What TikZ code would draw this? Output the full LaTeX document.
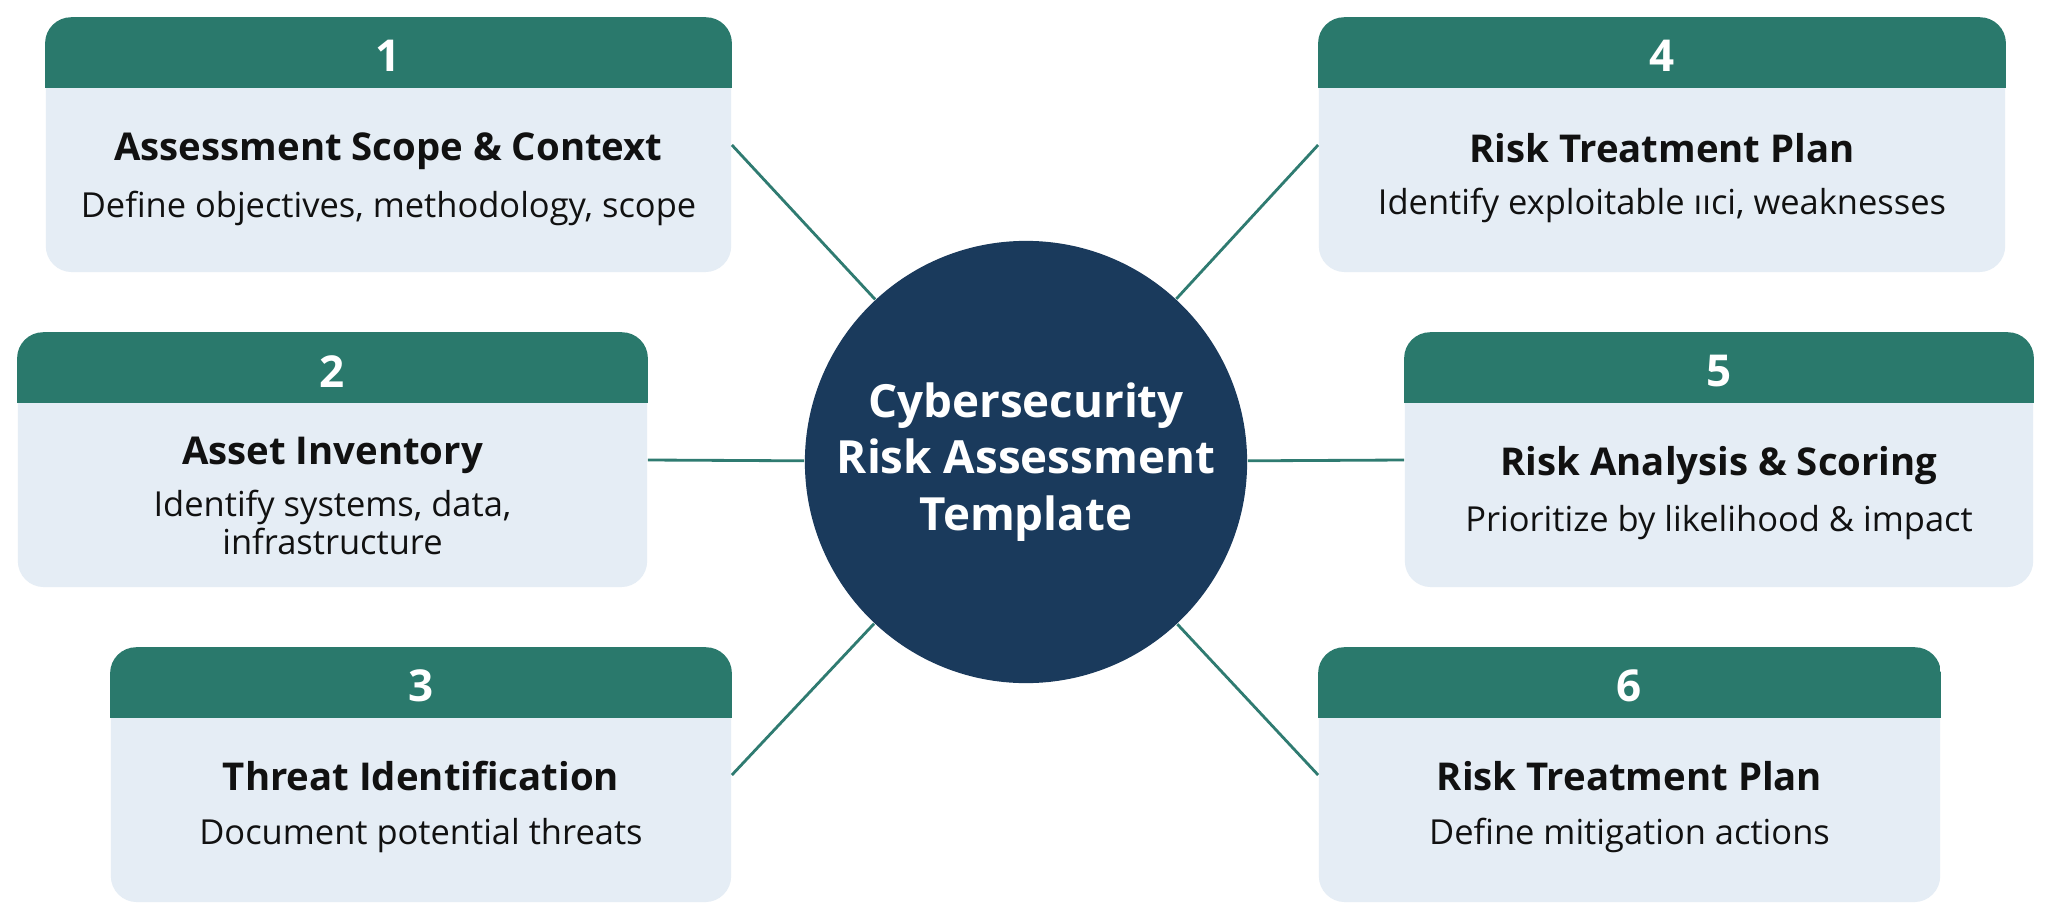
\documentclass[tikz,border=0pt]{standalone}
\usepackage{fontspec}
\setmainfont{Open Sans}
\usetikzlibrary{calc}
\definecolor{headc}{HTML}{2A796C}
\definecolor{bodyc}{HTML}{E5EDF5}
\definecolor{hubc}{HTML}{1A3A5C}
\definecolor{linec}{HTML}{2F7B71}
\definecolor{txtc}{HTML}{111111}
\tikzset{
  card/.style={fill=bodyc, rounded corners=0.26cm, minimum height=2.54cm, inner sep=0pt},
  numtxt/.style={text=white, font=\fontsize{12.5}{14}\selectfont\bfseries},
  ttl/.style={text=txtc, font=\fontsize{10.9}{12}\selectfont\bfseries},
  dsc/.style={text=txtc, font=\fontsize{9.8}{10.8}\selectfont, align=center},
  hub/.style={circle, fill=hubc, minimum size=4.42cm, inner sep=0pt, text=white, align=center, font=\fontsize{13}{16}\selectfont\bfseries},
  conn/.style={draw=linec, line width=0.8pt}
}
\newcommand{\cardhead}[1]{%
  \begin{scope}
    \clip[rounded corners=0.26cm] (#1.south west) rectangle (#1.north east);
    \fill[headc] (#1.north west) rectangle ([yshift=-0.71cm]#1.north east);
  \end{scope}}
\begin{document}
\begin{tikzpicture}[x=0.01cm,y=-0.01cm]
\useasboundingbox[fill=white] (0,0) rectangle (2048,921);
\node[hub] (c) at (1026,462) {Cybersecurity\\Risk Assessment\\Template};
% cards
\node[card, minimum width=6.85cm] (b1) at (388.5,145) {};
\node[card, minimum width=6.29cm] (b2) at (332.5,460) {};
\node[card, minimum width=6.20cm] (b3) at (421,775) {};
\node[card, minimum width=6.86cm] (b4) at (1662,145) {};
\node[card, minimum width=6.28cm] (b5) at (1719,460) {};
\node[card, minimum width=6.21cm] (b6) at (1629.5,775) {};
\cardhead{b1}\cardhead{b2}\cardhead{b3}\cardhead{b4}\cardhead{b5}\cardhead{b6}
% connectors
\draw[conn] (c) -- (b1.east);
\draw[conn] (c) -- (b2.east);
\draw[conn] (c) -- (b3.east);
\draw[conn] (c) -- (b4.west);
\draw[conn] (c) -- (b5.west);
\draw[conn] (c) -- (b6.west);
% numbers
\node[numtxt] (n1) at ([yshift=-0.39cm]b1.north) {1};
\node[numtxt] (n2) at ([yshift=-0.39cm]b2.north) {2};
\node[numtxt] (n3) at ([yshift=-0.39cm]b3.north) {3};
\node[numtxt] (n4) at ([yshift=-0.39cm]b4.north) {4};
\node[numtxt] (n5) at ([yshift=-0.39cm]b5.north) {5};
\node[numtxt] (n6) at ([yshift=-0.39cm]b6.north) {6};
% titles
\node[ttl] (t1) at ([yshift=-1.34cm]b1.north) {Assessment Scope \& Context};
\node[ttl] (t2) at ([yshift=-1.23cm]b2.north) {Asset Inventory};
\node[ttl] (t3) at ([yshift=-1.29cm]b3.north) {Threat Identification};
\node[ttl] (t4) at ([yshift=-1.31cm]b4.north) {Risk Treatment Plan};
\node[ttl] (t5) at ([yshift=-1.33cm]b5.north) {Risk Analysis \& Scoring};
\node[ttl] (t6) at ([yshift=-1.29cm]b6.north) {Risk Treatment Plan};
% descriptions
\node[dsc] (d1) at ([yshift=-1.91cm]b1.north) {Define objectives, methodology, scope};
\node[dsc] (d2) at ([yshift=-1.90cm]b2.north) {Identify systems, data,\\infrastructure};
\node[dsc] (d3) at ([yshift=-1.88cm]b3.north) {Document potential threats};
\node[dsc] (d4) at ([yshift=-1.88cm]b4.north) {Identify exploitable ııci, weaknesses};
\node[dsc] (d5) at ([yshift=-1.90cm]b5.north) {Prioritize by likelihood \& impact};
\node[dsc] (d6) at ([yshift=-1.88cm]b6.north) {Define mitigation actions};
\end{tikzpicture}
\end{document}
